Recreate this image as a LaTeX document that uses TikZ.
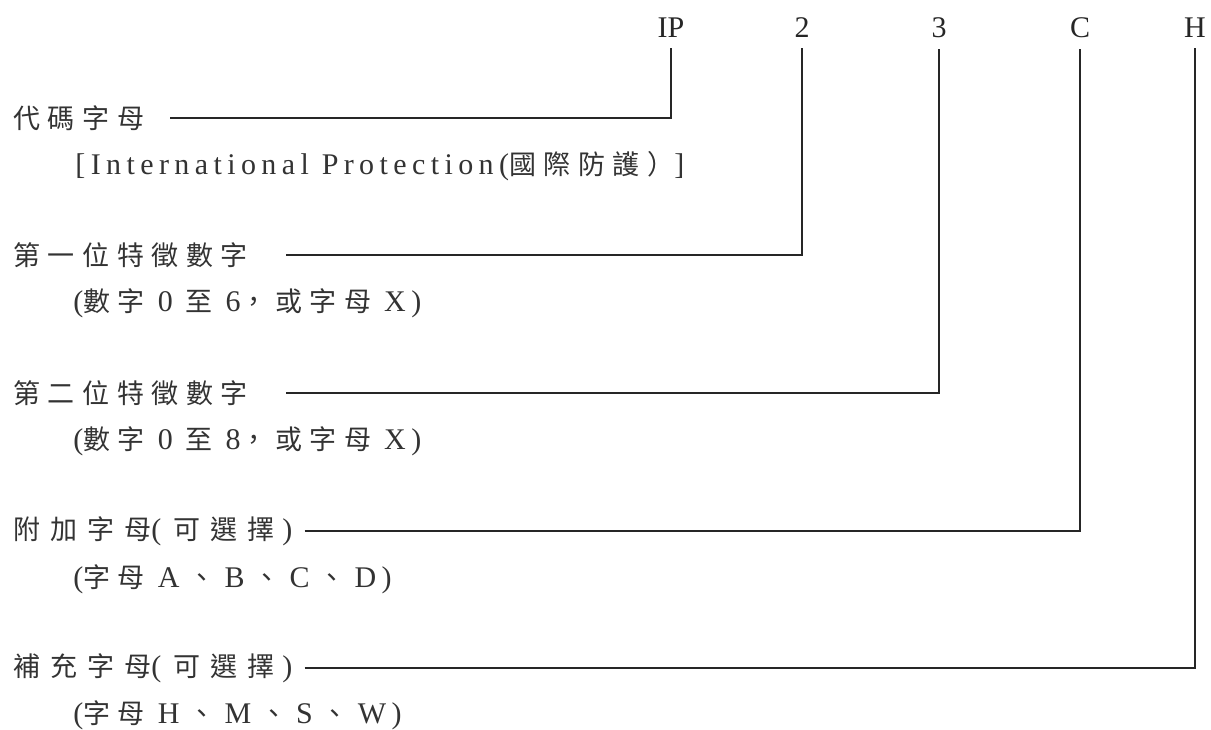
\documentclass[tikz,border=0pt]{standalone}
\usepackage{fontspec}
\setmainfont{Liberation Serif}
\newfontfamily\spaced[LetterSpace=18]{Liberation Serif}
\newfontfamily\cjk[LetterSpace=28]{Noto Sans CJK TC}
\newfontfamily\cjkwide[LetterSpace=37]{Noto Sans CJK TC}
\newcommand{\zh}[1]{{\fontsize{13.5}{13.5}\cjk #1}}
\newcommand{\zhw}[1]{{\fontsize{13.5}{13.5}\cjkwide #1}}
\newcommand{\dun}{\hspace{4.5pt}\zh{、}\hspace{4.5pt}}
\tikzset{
    code/.style = {font=\fontsize{15}{15}\selectfont, text=black!85, inner xsep=0pt, inner ysep=5.5pt, anchor=base},
    item/.style = {font=\fontsize{15}{15}\spaced, text=black!80, inner sep=0pt, anchor=west},
    note/.style = {item, anchor=base west},
    link/.style = {draw=black!85, line width=1.3pt},
}

\begin{document}
\begin{tikzpicture}[x=0.5pt, y=-0.5pt]
\useasboundingbox (0,0) rectangle (1211,729);
% the code along the top
\node[code] (ip) at (671,37) {IP};
\node[code] (first) at (802,37) {2};
\node[code] (second) at (939,37) {3};
\node[code] (extra) at (1080,37) {C};
\node[code] (supp) at (1195,37) {H};

% the parts of the code, with what they may be
\node[item] (ip-name) at (13,118) {\zh{代碼字母}};
\node[note] (ip-note) at (75,174) {[International Protection(\zh{國際防護）}]};

\node[item] (first-name) at (13,255) {\zh{第一位特徵數字}};
\node[note] (first-note) at (73,311) {(\zh{數字} 0 \zh{至} 6\zh{，或字母} X)};

\node[item] (second-name) at (13,393) {\zh{第二位特徵數字}};
\node[note] (second-note) at (73,449) {(\zh{數字} 0 \zh{至} 8\zh{，或字母} X)};

\node[item] (extra-name) at (13,531) {\zhw{附加字母}(\hspace{6pt}\zhw{可選擇}\hspace{4pt})};
\node[note] (extra-note) at (73,587) {(\zh{字母} A\dun B\dun C\dun D)};

\node[item] (supp-name) at (13,668) {\zhw{補充字母}(\hspace{6pt}\zhw{可選擇}\hspace{4pt})};
\node[note] (supp-note) at (73,723) {(\zh{字母} H\dun M\dun S\dun W)};

\draw[link] ([xshift=13pt]ip-name.east) -| (ip.south);
\draw[link] ([xshift=19pt]first-name.east) -| (first.south);
\draw[link] ([xshift=19pt]second-name.east) -| (second.south);
\draw[link] ([xshift=6pt]extra-name.east) -| (extra.south);
\draw[link] ([xshift=6pt]supp-name.east) -| (supp.south);
\end{tikzpicture}
\end{document}
